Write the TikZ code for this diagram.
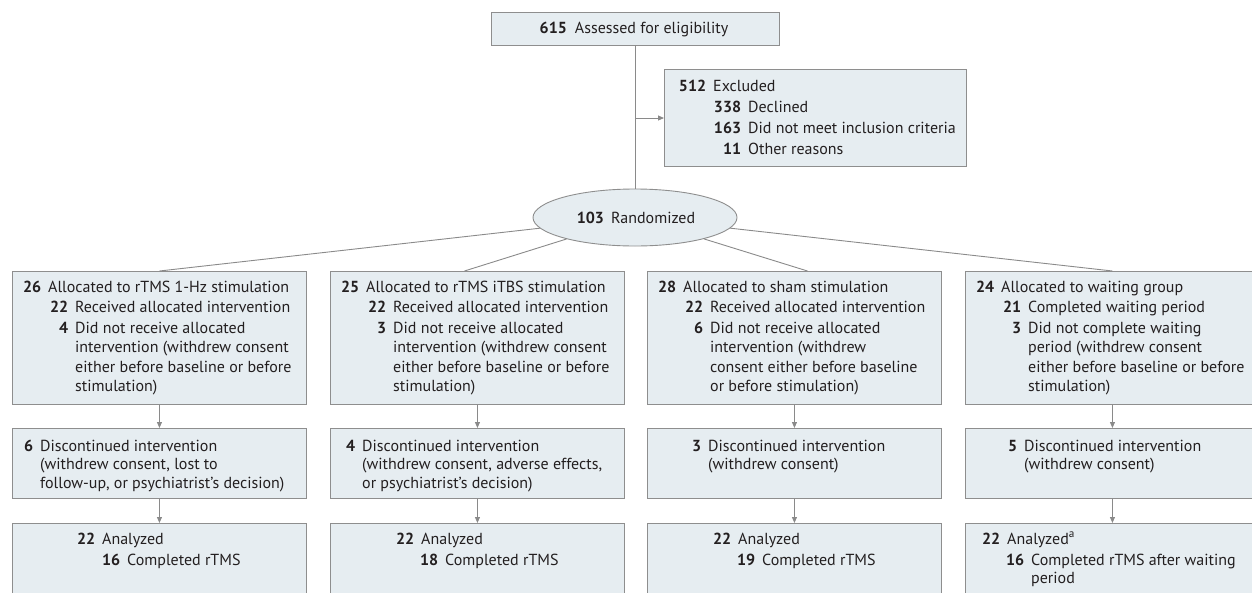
\documentclass[tikz,border=0pt]{standalone}
\usepackage{fontspec}
\setmainfont{PT Sans}
\usetikzlibrary{arrows.meta,calc,shapes.geometric}
\definecolor{boxfill}{HTML}{E6EDF1}
\definecolor{boxline}{HTML}{8E8E8E}
\definecolor{conn}{HTML}{8A8A8A}
\definecolor{txtc}{HTML}{231F20}
\newcommand\itm[3]{\hbox{\hspace*{#1pt}\llap{\textbf{#2}\hspace{7pt}}#3}}
\newcommand\cnt[2]{\hbox{\hspace*{#1pt}#2}}
\newcommand\gp{\vskip2.5pt}
\newcommand\gq{\vskip1pt}
\tikzset{
  box/.style={draw=boxline, fill=boxfill, line width=0.9pt, rectangle, inner sep=0pt, anchor=north west},
  txt/.style={inner sep=0pt, anchor=base west, text=txtc, font=\fontsize{16}{18.5}\selectfont},
  txtb/.style={txt, font=\fontsize{16}{19.5}\selectfont},
  link/.style={draw=conn, line width=0.9pt},
  arr/.style={link, -{Triangle[length=6pt,width=5pt]}},
}
\begin{document}
\begin{tikzpicture}[x=1pt,y=-1pt]
\useasboundingbox (0,0) rectangle (1252,592);
% top
\node[box, anchor=center, minimum width=288pt, minimum height=33pt] (top) at (635,28.5) {};
\node[txt, anchor=base] (topt) at (634,33.5) {\textbf{615}\hspace{8pt}Assessed for eligibility};
% excluded
\node[box, minimum width=302pt, minimum height=97pt] (excl) at (664,69) {};
\node[txt] (exclt) at ($(excl.north west)+(0,22.5)$) {\vtop{\itm{49}{512}{Excluded}\gp\itm{84}{338}{Declined}\gp\itm{84}{163}{Did not meet inclusion criteria}\gp\itm{84}{11}{Other reasons}}};
% randomized
\node[draw=boxline, fill=boxfill, line width=0.9pt, ellipse, minimum width=204pt, minimum height=57pt, inner sep=0pt] (rand) at (635,217.5) {};
\node[txt, anchor=base] (randt) at (636,223) {\textbf{103}\hspace{7pt}Randomized};
\coordinate (j) at (635,118);
\draw[link] (top.south) -- (rand.north);
\draw[arr] (j) -- (j -| excl.west);
% row 1
\node[box, minimum width=294pt, minimum height=133pt] (b1) at (12,271) {};
\node[box, minimum width=294pt, minimum height=133pt] (b2) at (330,271) {};
\node[box, minimum width=294pt, minimum height=133pt] (b3) at (647,271) {};
\node[box, minimum width=294pt, minimum height=133pt] (b4) at (965,271) {};
\node[txtb] (b1t) at ($(b1.north west)+(0,21)$) {\vtop{\itm{36}{26}{Allocated to rTMS 1-Hz stimulation}\gq\itm{63}{22}{Received allocated intervention}\gq\itm{63}{4}{Did not receive allocated}\cnt{63}{intervention (withdrew consent}\cnt{63}{either before baseline or before}\cnt{63}{stimulation)}}};
\node[txtb] (b2t) at ($(b2.north west)+(0,21)$) {\vtop{\itm{36}{25}{Allocated to rTMS iTBS stimulation}\gq\itm{63}{22}{Received allocated intervention}\gq\itm{63}{3}{Did not receive allocated}\cnt{63}{intervention (withdrew consent}\cnt{63}{either before baseline or before}\cnt{63}{stimulation)}}};
\node[txtb] (b3t) at ($(b3.north west)+(0,21)$) {\vtop{\itm{36}{28}{Allocated to sham stimulation}\gq\itm{63}{22}{Received allocated intervention}\gq\itm{63}{6}{Did not receive allocated}\cnt{63}{intervention (withdrew}\cnt{63}{consent either before baseline}\cnt{63}{or before stimulation)}}};
\node[txtb] (b4t) at ($(b4.north west)+(0,21)$) {\vtop{\itm{36}{24}{Allocated to waiting group}\gq\itm{63}{21}{Completed waiting period}\gq\itm{63}{3}{Did not complete waiting}\cnt{63}{period (withdrew consent}\cnt{63}{either before baseline or before}\cnt{63}{stimulation)}}};
\draw[link] (rand) -- (b1.north);
\draw[link] (rand) -- ($(b2.north)+(-13,0)$);
\draw[link] (rand) -- ($(b3.north)+(13,0)$);
\draw[link] (rand) -- (b4.north);
% row 2
\node[box, minimum width=294pt, minimum height=70pt] (c1) at (12,428) {};
\node[box, minimum width=294pt, minimum height=70pt] (c2) at (330,428) {};
\node[box, minimum width=294pt, minimum height=70pt] (c3) at (647,428) {};
\node[box, minimum width=294pt, minimum height=70pt] (c4) at (965,428) {};
\node[txt] (c1t) at ($(c1.north west)+(0,23)$) {\vtop{\itm{28}{6}{Discontinued intervention}\cnt{28}{(withdrew consent, lost to}\cnt{28}{follow-up, or psychiatrist’s decision)}}};
\node[txt] (c2t) at ($(c2.north west)+(0,23)$) {\vtop{\itm{32}{4}{Discontinued intervention}\cnt{32}{(withdrew consent, adverse effects,}\cnt{32}{or psychiatrist’s decision)}}};
\node[txt] (c3t) at ($(c3.north west)+(0,23)$) {\vtop{\itm{61}{3}{Discontinued intervention}\cnt{61}{(withdrew consent)}}};
\node[txt] (c4t) at ($(c4.north west)+(0,23)$) {\vtop{\itm{59}{5}{Discontinued intervention}\cnt{59}{(withdrew consent)}}};
\draw[arr] (b1.south) -- (c1.north);
\draw[arr] (b2.south) -- (c2.north);
\draw[arr] (b3.south) -- (c3.north);
\draw[arr] (b4.south) -- (c4.north);
% row 3
\node[box, minimum width=294pt, minimum height=75pt] (d1) at (12,523) {};
\node[box, minimum width=294pt, minimum height=75pt] (d2) at (330,523) {};
\node[box, minimum width=294pt, minimum height=75pt] (d3) at (647,523) {};
\node[box, minimum width=294pt, minimum height=75pt] (d4) at (965,523) {};
\node[txt] (d1t) at ($(d1.north west)+(0,21)$) {\vtop{\itm{90}{22}{Analyzed}\gp\itm{115}{16}{Completed rTMS}}};
\node[txt] (d2t) at ($(d2.north west)+(0,21)$) {\vtop{\itm{91}{22}{Analyzed}\gp\itm{115}{18}{Completed rTMS}}};
\node[txt] (d3t) at ($(d3.north west)+(0,21)$) {\vtop{\itm{91}{22}{Analyzed}\gp\itm{115}{19}{Completed rTMS}}};
\node[txt] (d4t) at ($(d4.north west)+(0,21)$) {\vtop{\itm{42}{22}{Analyzed\textsuperscript{a}}\gp\itm{66}{16}{Completed rTMS after waiting}\cnt{66}{period}}};
\draw[arr] (c1.south) -- (d1.north);
\draw[arr] (c2.south) -- (d2.north);
\draw[arr] (c3.south) -- (d3.north);
\draw[arr] (c4.south) -- (d4.north);
\end{tikzpicture}
\end{document}
